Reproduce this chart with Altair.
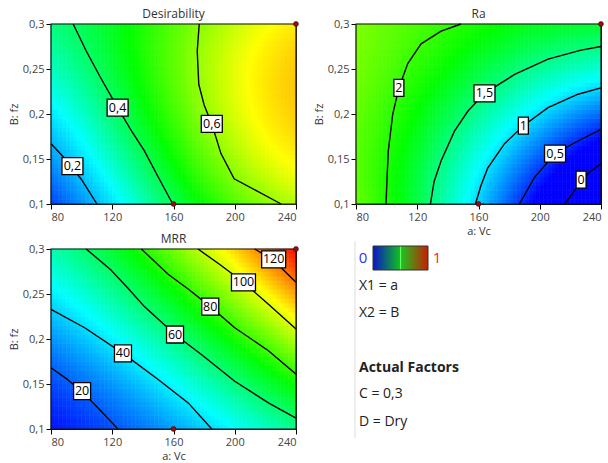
import altair as alt
import numpy as np
import pandas as pd

FONT = "Open Sans"
X_TICKS = [80, 120, 160, 200, 240]
Y_TICKS = [0.1, 0.15, 0.2, 0.25, 0.3]
DOT_X = [240, 160]
DOT_Y = [0.3, 0.1]
PALETTE = ["#0000ff", "#00ffff", "#00ff00", "#ffff00", "#ff0000"]

# ---------- Desirability ----------
DES_LEVELS = [0.2, 0.4, 0.6]
DES_LINE_X = [
    [80, 90, 100, 110],
    [94.5, 103, 112.5, 123.5, 133, 141, 150, 159.5],
    [176.8, 175.5, 176.5, 180, 185, 191, 199.6, 215, 230.3],
]
DES_LINE_Y = [
    [0.167, 0.149, 0.127, 0.1],
    [0.3, 0.27, 0.24, 0.207, 0.18, 0.159, 0.13, 0.1],
    [0.3, 0.27, 0.233, 0.21, 0.189, 0.156, 0.128, 0.114, 0.1],
]
DES_LABEL_X = [94, 123.5, 185]
DES_LABEL_Y = [0.142, 0.207, 0.189]
DES_LABEL_TEXT = ["0,2", "0,4", "0,6"]
DES_SPOT_X = [80, 80, 80, 120, 120, 120, 160, 160, 200, 200, 200, 240, 240, 240, 240, 240]
DES_SPOT_Y = [0.1, 0.2, 0.3, 0.1, 0.2, 0.3, 0.2, 0.3, 0.1, 0.2, 0.3, 0.1, 0.15, 0.2, 0.25, 0.3]
DES_SPOT_V = [0.08, 0.25, 0.36, 0.25, 0.385, 0.45, 0.52, 0.53, 0.55, 0.66, 0.65, 0.62, 0.72, 0.77, 0.76, 0.72]
DES_COLOR_DOMAIN = [0.02, 0.27, 0.47, 0.70, 1.02]

# ---------- Ra ----------
RA_LEVELS = [2, 1.5, 1, 0.5, 0]
RA_LINE_X = [
    [99.6, 100.3, 101.1, 104, 108, 113.8, 122.5, 135.6, 148.6],
    [128.6, 131, 135.6, 144.3, 153, 163.9, 183.6, 205.4, 227, 240],
    [158, 161.5, 166, 177, 189.3, 205.4, 225, 240],
    [186.7, 196.4, 210, 225, 240],
    [216.2, 222, 227, 233, 240],
]
RA_LINE_Y = [
    [0.1, 0.13, 0.159, 0.2, 0.229, 0.256, 0.278, 0.292, 0.3],
    [0.1, 0.125, 0.148, 0.181, 0.203, 0.223, 0.244, 0.261, 0.271, 0.275],
    [0.1, 0.12, 0.14, 0.167, 0.187, 0.207, 0.222, 0.229],
    [0.1, 0.129, 0.156, 0.17, 0.183],
    [0.1, 0.113, 0.126, 0.136, 0.145],
]
RA_LABEL_X = [108, 163.9, 189.3, 210, 227]
RA_LABEL_Y = [0.229, 0.223, 0.187, 0.156, 0.127]
RA_LABEL_TEXT = ["2", "1,5", "1", "0,5", "0"]
RA_SPOT_X = [80, 80, 80, 120, 120, 120, 160, 160, 200, 200, 200, 240, 240, 240]
RA_SPOT_Y = [0.1, 0.2, 0.3, 0.1, 0.2, 0.3, 0.2, 0.3, 0.1, 0.2, 0.3, 0.1, 0.2, 0.3]
RA_SPOT_V = [2.15, 2.25, 2.35, 1.65, 1.85, 2.1, 1.43, 1.95, 0.28, 0.93, 1.78, -0.35, 0.68, 1.65]
RA_COLOR_DOMAIN = [0.35, 1.1, 1.85, 2.8, 3.8]

# ---------- MRR ----------
MRR_LEVELS = [20, 40, 60, 80, 100, 120]
MRR_LINE_X = [
    [80, 90, 100, 112, 123.7],
    [80, 102, 127, 150, 169.6, 185],
    [103, 119, 130, 141, 161, 178, 200, 222, 240],
    [139, 156.5, 170, 184, 200, 222, 240],
    [176, 190, 205.7, 222, 240],
    [213, 225, 240],
]
MRR_LINE_Y = [
    [0.168, 0.156, 0.142, 0.121, 0.1],
    [0.233, 0.2125, 0.184, 0.155, 0.129, 0.1],
    [0.3, 0.277, 0.257, 0.236, 0.205, 0.183, 0.153, 0.129, 0.112],
    [0.3, 0.272, 0.255, 0.236, 0.2125, 0.187, 0.161],
    [0.3, 0.283, 0.263, 0.2385, 0.211],
    [0.3, 0.288, 0.263],
]
MRR_LABEL_X = [100.3, 127, 161, 184, 205.7, 225.4]
MRR_LABEL_Y = [0.142, 0.184, 0.205, 0.236, 0.263, 0.2885]
MRR_LABEL_TEXT = ["20", "40", "60", "80", "100", "120"]
MRR_SPOT_X = [80, 80, 80, 120, 160, 160, 200, 240, 240, 240]
MRR_SPOT_Y = [0.1, 0.2, 0.3, 0.2, 0.1, 0.3, 0.2, 0.1, 0.2, 0.3]
MRR_SPOT_V = [10, 30, 52, 42, 32, 91, 77, 56, 107, 133]
MRR_COLOR_DOMAIN = [8, 43, 75, 106, 135]

# ---------- legend panel ----------
LEGEND_LOW = "0"
LEGEND_HIGH = "1"
LEGEND_LINES = ["X1 = a", "X2 = B", "Actual Factors", "C = 0,3", "D = Dry"]
LEGEND_BOLD = [False, False, True, False, False]

W, H = 245, 180


def design(u, w):
    return np.column_stack([np.ones_like(u), u, w, u * u, u * w, w * w,
                            u ** 3, u * u * w, u * w * w, w ** 3])


def surface_cells(levels, lx, ly, sx, sy, sv, nx=64, ny=40):
    px, py, pv = [], [], []
    for lev, xs, ys in zip(levels, lx, ly):
        px += list(xs)
        py += list(ys)
        pv += [lev] * len(xs)
    px += list(sx)
    py += list(sy)
    pv += list(sv)
    u = (np.array(px, float) - 160) / 80
    w = (np.array(py, float) - 0.2) / 0.1
    coef, *_ = np.linalg.lstsq(design(u, w), np.array(pv, float), rcond=None)
    xe = np.linspace(80, 240, nx + 1)
    ye = np.linspace(0.1, 0.3, ny + 1)
    xc = (xe[:-1] + xe[1:]) / 2
    yc = (ye[:-1] + ye[1:]) / 2
    XX, YY = np.meshgrid(xc, yc)
    X0, Y0 = np.meshgrid(xe[:-1], ye[:-1])
    X1, Y1 = np.meshgrid(xe[1:], ye[1:])
    V = design(((XX - 160) / 80).ravel(), ((YY - 0.2) / 0.1).ravel()) @ coef
    return pd.DataFrame({"x0": X0.ravel(), "x1": X1.ravel(),
                         "y0": Y0.ravel(), "y1": Y1.ravel(), "v": V})


def lines_frame(levels, lx, ly):
    rows = []
    for lev, xs, ys in zip(levels, lx, ly):
        for i, (x, y) in enumerate(zip(xs, ys)):
            rows.append({"level": str(lev), "i": i, "x0": x, "y0": y})
    return pd.DataFrame(rows)


def labels_frame(lx, ly, lt):
    df = pd.DataFrame({"x0": lx, "y0": ly, "t": lt})

    def box(t):
        w = 3 + 7 * sum(c.isdigit() for c in t) + 4 * t.count(",")
        h = w / 2
        return f"M{-h},-8.5H{h}V8.5H{-h}Z"
    df["shape"] = df["t"].map(box)
    return df


xscale = alt.Scale(domain=[80, 240], nice=False, zero=False)
yscale = alt.Scale(domain=[0.1, 0.3], nice=False, zero=False)


def panel(title, levels, lx, ly, labx, laby, labt, sx, sy, sv, cdom, xtitle):
    cells = surface_cells(levels, lx, ly, sx, sy, sv)
    cscale = alt.Scale(domain=cdom, range=PALETTE, interpolate="rgb", clamp=True)
    xaxis = alt.Axis(values=X_TICKS, title=xtitle if xtitle else "", titlePadding=3)
    yaxis = alt.Axis(values=Y_TICKS, title="B: fz", titlePadding=3,
                     labelExpr="replace(format(datum.value, '.2~f'), '.', ',')")
    X = alt.X("x0:Q", scale=xscale, axis=xaxis)
    Y = alt.Y("y0:Q", scale=yscale, axis=yaxis)
    heat = alt.Chart(cells).mark_rect(strokeWidth=0.6).encode(
        x=X, x2="x1", y=Y, y2="y1",
        color=alt.Color("v:Q", scale=cscale, legend=None),
        stroke=alt.Stroke("v:Q", scale=cscale, legend=None),
    )
    lines = alt.Chart(lines_frame(levels, lx, ly)).mark_line(color="black", strokeWidth=1.4).encode(
        x=X, y=Y, detail="level:N", order="i:Q",
    )
    lab = labels_frame(labx, laby, labt)
    boxes = alt.Chart(lab).mark_point(filled=True, fill="white", stroke="black",
                                      strokeWidth=1.3, opacity=1, size=4).encode(
        x=X, y=Y, shape=alt.Shape("shape:N", scale=None),
    )
    texts = alt.Chart(lab).mark_text(font=FONT, fontSize=12.5, color="black").encode(
        x=X, y=Y, text="t:N",
    )
    frame = alt.Chart(pd.DataFrame({"k": [0]})).mark_rect(
        fillOpacity=0, stroke="#111111", strokeWidth=1.2).encode(
        x=alt.value(0), x2=alt.value(W), y=alt.value(0), y2=alt.value(H))
    dots = alt.Chart(pd.DataFrame({"x0": DOT_X, "y0": DOT_Y})).mark_circle(
        size=24, color="#9a0c0c", opacity=1, stroke="#400000", strokeWidth=0.6).encode(
        x=X, y=Y,
    )
    return alt.layer(heat, lines, boxes, texts, frame, dots).properties(
        width=W, height=H,
        title=alt.TitleParams(title, font=FONT, fontSize=12, fontWeight="normal",
                              color="#333333", offset=-3),
    )


tl = panel("Desirability", DES_LEVELS, DES_LINE_X, DES_LINE_Y, DES_LABEL_X, DES_LABEL_Y,
           DES_LABEL_TEXT, DES_SPOT_X, DES_SPOT_Y, DES_SPOT_V, DES_COLOR_DOMAIN, None)
tr = panel("Ra", RA_LEVELS, RA_LINE_X, RA_LINE_Y, RA_LABEL_X, RA_LABEL_Y,
           RA_LABEL_TEXT, RA_SPOT_X, RA_SPOT_Y, RA_SPOT_V, RA_COLOR_DOMAIN, "a: Vc")
bl = panel("MRR", MRR_LEVELS, MRR_LINE_X, MRR_LINE_Y, MRR_LABEL_X, MRR_LABEL_Y,
           MRR_LABEL_TEXT, MRR_SPOT_X, MRR_SPOT_Y, MRR_SPOT_V, MRR_COLOR_DOMAIN, "a: Vc")

# legend panel (pixel positions relative to its view)
one = pd.DataFrame({"k": [0]})
leg_layers = [
    alt.Chart(one).mark_rule(color="#dddddd", strokeWidth=1).encode(
        x=alt.value(-1), y=alt.value(-8), y2=alt.value(189)),
    alt.Chart(one).mark_rect(
        color=alt.LinearGradient(gradient="linear", x1=0, x2=1, y1=0, y2=0, stops=[
            alt.GradientStop(offset=0, color="#0a14c8"),
            alt.GradientStop(offset=0.49, color="#10c020"),
            alt.GradientStop(offset=0.5, color="#60ff60"),
            alt.GradientStop(offset=0.52, color="#20c020"),
            alt.GradientStop(offset=1, color="#c81e00"),
        ]), stroke="#333333", strokeWidth=1).encode(
        x=alt.value(17), x2=alt.value(72), y=alt.value(-3), y2=alt.value(21)),
    alt.Chart(pd.DataFrame({"t": [LEGEND_LOW]})).mark_text(
        font=FONT, fontSize=15, color="#3030ff").encode(
        x=alt.value(7), y=alt.value(9), text="t:N"),
    alt.Chart(pd.DataFrame({"t": [LEGEND_HIGH]})).mark_text(
        font=FONT, fontSize=15, color="#ff2020").encode(
        x=alt.value(81), y=alt.value(9), text="t:N"),
]
LEG_Y = [37, 64, 119, 145, 173]
for txt, bold, yy in zip(LEGEND_LINES, LEGEND_BOLD, LEG_Y):
    leg_layers.append(
        alt.Chart(pd.DataFrame({"t": [txt]})).mark_text(
            font=FONT, fontSize=14, align="left", color="#222222",
            fontWeight="bold" if bold else "normal").encode(
            x=alt.value(3), y=alt.value(yy), text="t:N"))
leg = alt.layer(*leg_layers).properties(width=W, height=H,
                                       view=alt.ViewBackground(stroke="transparent"))

chart = alt.concat(tl, tr, bl, leg, columns=2, spacing={"row": 45, "column": 60},
                   bounds="flush").resolve_scale(
    color="independent", stroke="independent", x="independent", y="independent",
).properties(
    padding={"left": 7, "top": 7, "right": 0, "bottom": 0},
    background="white",
).configure_view(stroke="black", strokeWidth=1).configure_axis(
    grid=False, domainColor="black", tickColor="black", tickSize=5,
    labelColor="#444444", labelFont=FONT, labelFontSize=11, labelPadding=2,
    titleFont=FONT, titleFontSize=11, titleFontWeight="normal", titleColor="#333333",
)

chart.save("out.html", embed_options={"renderer": "svg", "actions": False})
